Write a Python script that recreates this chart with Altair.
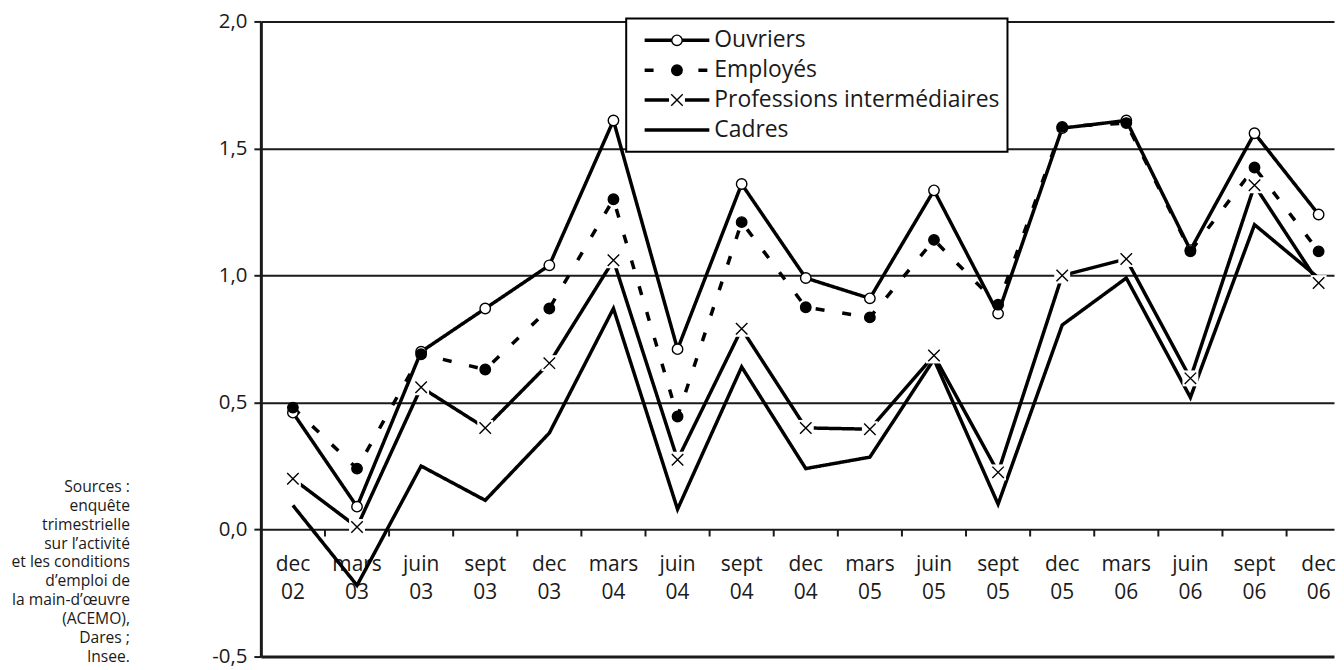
import altair as alt
import pandas as pd

# ---------------- data ----------------
periodes = ["dec\n02", "mars\n03", "juin\n03", "sept\n03", "dec\n03", "mars\n04",
            "juin\n04", "sept\n04", "dec\n04", "mars\n05", "juin\n05", "sept\n05",
            "dec\n05", "mars\n06", "juin\n06", "sept\n06", "dec\n06"]
ouvriers = [0.46, 0.09, 0.70, 0.87, 1.04, 1.61, 0.71, 1.36, 0.99, 0.91, 1.335, 0.85,
            1.58, 1.61, 1.10, 1.56, 1.24]
employes = [0.48, 0.24, 0.69, 0.63, 0.87, 1.30, 0.445, 1.21, 0.875, 0.835, 1.14, 0.885,
            1.585, 1.60, 1.095, 1.425, 1.095]
professions = [0.20, 0.01, 0.56, 0.40, 0.655, 1.06, 0.275, 0.79, 0.40, 0.395, 0.685, 0.225,
               1.00, 1.065, 0.595, 1.355, 0.97]
cadres = [0.095, -0.22, 0.25, 0.115, 0.38, 0.87, 0.08, 0.64, 0.24, 0.285, 0.67, 0.10,
          0.805, 0.99, 0.52, 1.20, 0.99]
series_names = ["Ouvriers", "Employés", "Professions intermédiaires", "Cadres"]
y_ticks = [-0.5, 0.0, 0.5, 1.0, 1.5, 2.0]
sources = ["Sources :", "enquête", "trimestrielle", "sur l’activité", "et les conditions",
           "d’emploi de", "la main-d’œuvre", "(ACEMO),", "Dares ;", "Insee."]

# ---------------- tables ----------------
values = {"Ouvriers": ouvriers, "Employés": employes,
          "Professions intermédiaires": professions, "Cadres": cadres}
rows = []
for s in series_names:
    for i, v in enumerate(values[s]):
        rows.append({"x": i, "y": v, "serie": s})
df = pd.DataFrame(rows)
df_pts = df[df["serie"] != "Cadres"]
bg_domain = [s + " (fond)" for s in series_names[:3]]
df_x = df[df["serie"] == "Professions intermédiaires"].assign(fond=bg_domain[2])
df_lab = pd.DataFrame({"x": list(range(len(periodes))), "y": [0.0] * len(periodes),
                       "label": periodes})
df_ticks = pd.DataFrame({"x": [i + 0.5 for i in range(len(periodes) - 1)],
                         "y": [0.0] * (len(periodes) - 1)})

FONT = "Open Sans"
DARK = "#1a1a1a"
TXT = "#1a1a1a"
XPATH = "M-1.1,-1.1L1.1,1.1M-1.1,1.1L1.1,-1.1"
LEG_X, LEG_Y, LEG_FS = 367, -3, 23

x_enc = alt.X("x:Q", scale=alt.Scale(domain=[-0.5, 16.24], nice=False, zero=False), axis=None)
y_enc = alt.Y(
    "y:Q",
    scale=alt.Scale(domain=[-0.5, 2.0], nice=False, zero=False),
    axis=alt.Axis(
        values=y_ticks,
        labelExpr="replace(replace(format(datum.value, '.1f'), '.', ','), '\u2212', '-')",
        grid=True, gridColor=DARK,
        gridWidth={"condition": {"test": "datum.value === -0.5", "value": 3}, "value": 2},
        domain=True, domainColor=DARK, domainWidth=3,
        ticks=True, tickSize=7, tickWidth=2, tickColor=DARK,
        labelFontSize=20.5, labelFont=FONT, labelColor=TXT, labelPadding=7,
        title=sources, titleAngle=0, titleAlign="right", titleBaseline="top",
        titleX=-132, titleY=460, titleFontSize=15.7, titleFontWeight="normal",
        titleLineHeight=19, titleFont=FONT, titleColor=TXT,
    ),
)

ticks = alt.Chart(df_ticks).mark_tick(
    orient="vertical", size=7, thickness=2, color=DARK, yOffset=3.5, opacity=1
).encode(x=x_enc, y=y_enc)

labels = alt.Chart(df_lab).mark_text(
    align="center", baseline="top", dy=25, lineBreak="\n", lineHeight=28,
    fontSize=21, font=FONT, color=TXT
).encode(x=x_enc, y=y_enc, text="label:N")

lines = alt.Chart(df).mark_line(strokeWidth=3.5, color="black").encode(
    x=x_enc, y=y_enc,
    strokeDash=alt.StrokeDash(
        "serie:N",
        scale=alt.Scale(domain=series_names, range=[[1, 0], [9, 18], [1, 0], [1, 0]]),
        legend=alt.Legend(
            title=None, orient="none", legendX=LEG_X, legendY=LEG_Y,
            symbolType="stroke", symbolSize=4225, symbolStrokeWidth=3.5,
            symbolStrokeColor="black", strokeColor="black", fillColor="white",
            padding=7, clipHeight=30, rowPadding=0, labelFontSize=LEG_FS, labelFont=FONT,
            labelColor=TXT, labelLimit=600, labelOffset=3, symbolOffset=9.5, zindex=1,
        ),
    ),
)

# white backing squares behind the x markers (as in the original)
xbg = alt.Chart(df_x).mark_square(size=256, opacity=1, strokeWidth=0).encode(
    x=x_enc, y=y_enc,
    color=alt.Color(
        "fond:N",
        scale=alt.Scale(domain=bg_domain, range=["transparent", "transparent", "white"]),
        legend=alt.Legend(
            title=None, orient="none", legendX=LEG_X, legendY=LEG_Y,
            padding=7, clipHeight=30, rowPadding=0, labelFontSize=LEG_FS, labelFont=FONT,
            labelExpr="''", symbolOffset=32.5, zindex=2, symbolType="square",
            symbolSize=256, symbolStrokeWidth=0,
        ),
    ),
)

pts = alt.Chart(df_pts).mark_point(
    filled=False, strokeWidth=1.4, opacity=1, size=110
).encode(
    x=x_enc, y=y_enc,
    shape=alt.Shape(
        "serie:N",
        scale=alt.Scale(domain=series_names[:3], range=["circle", "circle", XPATH]),
        legend=alt.Legend(
            title=None, orient="none", legendX=LEG_X, legendY=LEG_Y,
            padding=7, clipHeight=30, rowPadding=0, labelFontSize=LEG_FS, labelFont=FONT,
            labelExpr="''", symbolOffset=32.5, zindex=3,
            symbolStrokeColor="black", symbolStrokeWidth=1.4, symbolSize=110,
        ),
    ),
    fill=alt.Fill("serie:N", scale=alt.Scale(domain=series_names[:3],
                                              range=["white", "black", "white"])),
    stroke=alt.Stroke("serie:N", scale=alt.Scale(domain=series_names[:3],
                                                  range=["black", "black", "black"])),
)

chart = alt.layer(ticks, labels, lines, xbg, pts).properties(
    width=1078, height=638, autosize="none",
    padding={"left": 254, "top": 12, "right": 2, "bottom": 10},
    background="white",
).configure_view(stroke=None).configure_legend(strokeWidth=2)

chart.save("out.html", embed_options={"renderer": "svg", "actions": False})
